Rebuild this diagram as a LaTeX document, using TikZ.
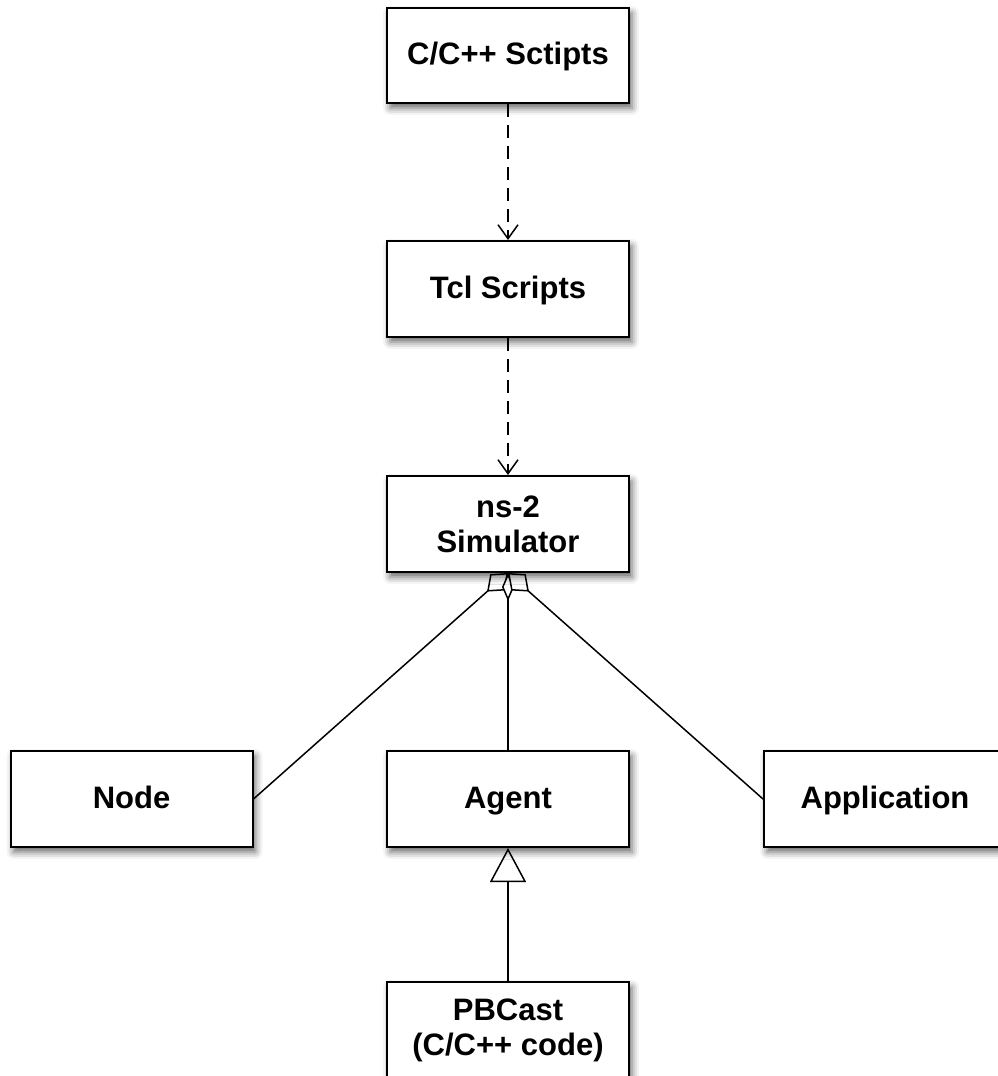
\documentclass[tikz,border=0pt]{standalone}
\usepackage{fontspec}
\setmainfont{Liberation Sans}
\usepackage{tikz}
\usetikzlibrary{arrows.meta,shadows.blur,backgrounds}

\begin{document}
\begin{tikzpicture}[x=1pt,y=-1pt,
  box/.style={draw,line width=2pt,fill=white,minimum width=242pt,minimum height=96pt,
    align=center,font=\fontsize{31}{35}\selectfont\bfseries,
    blur shadow={shadow xshift=3pt,shadow yshift=-5pt,shadow blur radius=7pt,shadow opacity=60}},
  oneline/.style={text height=23pt,text depth=5pt},
  dep/.style={line width=1.5pt,dash pattern=on 13pt off 8pt,
    -{Straight Barb[length=14pt,width=20pt]}},
  agg/.style={line width=1.5pt,{Diamond[fill=white,length=28pt,width=22pt]}-},
  inh/.style={line width=1.5pt,-{Triangle[fill=white,length=34pt,width=36pt]}}]
\useasboundingbox (0,0) rectangle (997,1076);
\node[box,oneline,minimum height=95pt] (cpp) at (508,55.5) {C/C++ Sctipts};
\node[box,oneline] (tcl) at (508,289) {Tcl Scripts};
\node[box] (ns) at (508,524) {ns-2\\Simulator};
\node[box,oneline] (node) at (131.5,799) {Node};
\node[box,oneline] (agent) at (508,799) {Agent};
\node[box,oneline] (app) at (885,799) {Application};
\node[box] (pb) at (508,1030) {PBCast\\(C/C++ code)};
\begin{scope}[on background layer]
\draw[dep] (cpp) -- (tcl);
\draw[dep] (tcl) -- (ns);
\draw[agg] (ns.south) -- (node.east);
\draw[agg,{Diamond[fill=white,length=28pt,width=12pt]}-] (ns.south) -- (agent.north);
\draw[agg] (ns.south) -- (app.west);
\draw[inh] (pb.north) -- (agent.south);
\end{scope}
\end{tikzpicture}
\end{document}
